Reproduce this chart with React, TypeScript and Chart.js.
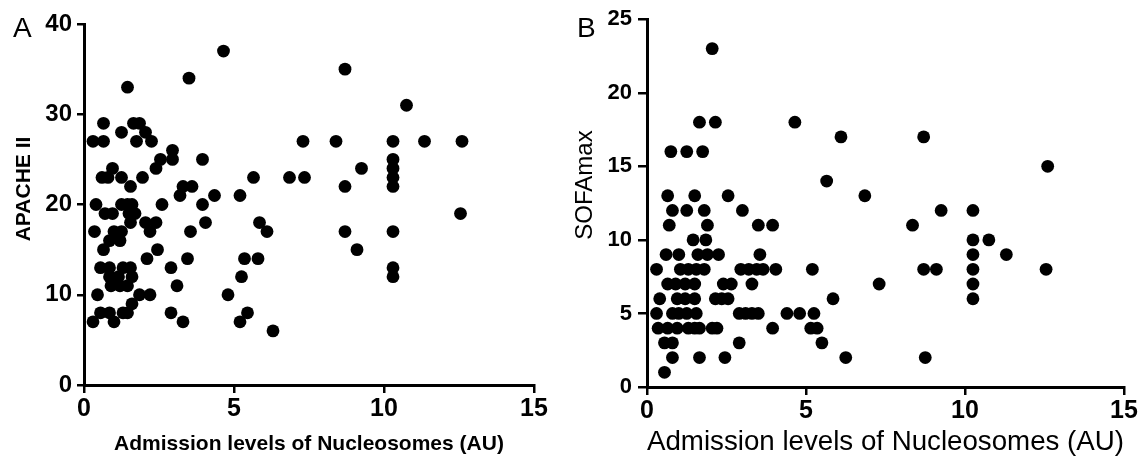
import React, { useEffect, useRef } from "react";
import { Chart, registerables } from "chart.js";

Chart.register(...registerables);

// ---------- data ----------
const X_TICKS = [0, 5, 10, 15];
const APACHE_TICKS = [0, 10, 20, 30, 40];
const SOFA_TICKS = [0, 5, 10, 15, 20, 25];

const X_TITLE = "Admission levels of Nucleosomes (AU)";
const APACHE_TITLE = "APACHE II";
const SOFA_TITLE = "SOFAmax";

// Panel A: nucleosomes vs APACHE II
const apacheX = [
  1.45, 3.5, 4.65, 8.7, 10.75,
  0.65, 1.65, 1.85,
  1.25, 2.05,
  0.3, 0.65, 1.75, 2.25, 7.3, 8.4, 10.3, 11.35, 12.6,
  2.95,
  2.55, 2.95, 3.95, 10.3,
  0.95, 2.4, 9.25, 10.3,
  0.6, 0.8, 1.25, 1.95, 5.65, 6.85, 7.35, 10.3,
  1.55, 3.3, 3.6, 8.7, 10.3,
  3.2, 4.35, 5.2,
  0.4, 1.25, 1.45, 1.6, 2.6, 3.95,
  0.7, 0.95, 1.5, 1.7, 12.55,
  1.55, 2.05, 2.4, 4.05, 5.85,
  0.35, 1.0, 1.25, 2.2, 3.55, 6.1, 8.7, 10.3,
  0.85, 1.2,
  0.65, 2.45, 9.1,
  2.1, 3.45, 5.35, 5.8,
  0.55, 0.85, 1.3, 1.55, 2.9, 10.3,
  0.85, 1.15, 1.6, 5.25, 10.3,
  0.9, 1.2, 1.45, 3.1,
  0.45, 1.85, 2.2, 4.8,
  1.6,
  0.55, 0.85, 1.3, 1.45, 2.9, 5.45,
  0.3, 1.0, 3.3, 5.2,
  6.3,
];
const apacheY = [
  33, 34, 37, 35, 31,
  29, 29, 29,
  28, 28,
  27, 27, 27, 27, 27, 27, 27, 27, 27,
  26,
  25, 25, 25, 25,
  24, 24, 24, 24,
  23, 23, 23, 23, 23, 23, 23, 23,
  22, 22, 22, 22, 22,
  21, 21, 21,
  20, 20, 20, 20, 20, 20,
  19, 19, 19, 19, 19,
  18, 18, 18, 18, 18,
  17, 17, 17, 17, 17, 17, 17, 17,
  16, 16,
  15, 15, 15,
  14, 14, 14, 14,
  13, 13, 13, 13, 13, 13,
  12, 12, 12, 12, 12,
  11, 11, 11, 11,
  10, 10, 10, 10,
  9,
  8, 8, 8, 8, 8, 8,
  7, 7, 7, 7,
  6,
];

// Panel B: nucleosomes vs SOFAmax
const sofaX = [
  2.05,
  1.65, 2.15, 4.65,
  6.1, 8.7,
  0.75, 1.25, 1.75,
  12.6,
  5.65,
  0.65, 1.5, 2.55, 6.85,
  0.8, 1.25, 1.8, 3.0, 9.25, 10.25,
  0.7, 1.9, 3.5, 3.95, 8.35,
  1.45, 1.85, 10.25, 10.75,
  0.6, 1.0, 1.6, 1.9, 2.25, 3.55, 10.25, 11.3,
  0.3, 1.05, 1.3, 1.55, 1.8, 2.95, 3.2, 3.45, 3.65, 4.05, 5.2, 8.7, 9.1, 10.25, 12.55,
  0.65, 0.9, 1.2, 1.5, 2.4, 2.65, 3.3, 7.3, 10.25,
  0.4, 0.95, 1.2, 1.5, 2.15, 2.35, 2.55, 5.85, 10.25,
  0.3, 0.8, 1.0, 1.25, 1.55, 2.9, 3.1, 3.3, 3.5, 4.4, 4.8, 5.25,
  0.35, 0.65, 0.95, 1.3, 1.5, 1.65, 2.05, 2.2, 3.95, 5.15, 5.35,
  0.55, 0.8, 2.9, 5.5,
  0.8, 1.65, 2.45, 6.25, 8.75,
  0.55,
];
const sofaY = [
  23,
  18, 18, 18,
  17, 17,
  16, 16, 16,
  15,
  14,
  13, 13, 13, 13,
  12, 12, 12, 12, 12, 12,
  11, 11, 11, 11, 11,
  10, 10, 10, 10,
  9, 9, 9, 9, 9, 9, 9, 9,
  8, 8, 8, 8, 8, 8, 8, 8, 8, 8, 8, 8, 8, 8, 8,
  7, 7, 7, 7, 7, 7, 7, 7, 7,
  6, 6, 6, 6, 6, 6, 6, 6, 6,
  5, 5, 5, 5, 5, 5, 5, 5, 5, 5, 5, 5,
  4, 4, 4, 4, 4, 4, 4, 4, 4, 4, 4,
  3, 3, 3, 3,
  2, 2, 2, 2, 2,
  1,
];

// ---------- rendering ----------
const FONT = "'Liberation Sans', Arial, Helvetica, sans-serif";

const panelText = {
  id: "panelText",
  afterDraw(chart: any, _args: any, opts: any) {
    const ctx = chart.ctx;
    ctx.save();
    ctx.fillStyle = "#000";
    ctx.font = opts.letterFont;
    ctx.textAlign = "left";
    ctx.textBaseline = "alphabetic";
    ctx.fillText(opts.letter, opts.letterX, opts.letterY);
    ctx.translate(opts.titleX, opts.titleY);
    ctx.rotate(-Math.PI / 2);
    ctx.textAlign = "center";
    ctx.textBaseline = "middle";
    ctx.font = opts.titleFont;
    ctx.fillText(opts.title, 0, 0);
    ctx.restore();
  },
};

type PanelProps = {
  left: number;
  width: number;
  xs: number[];
  ys: number[];
  yTicks: number[];
  yMax: number;
  yScaleWidth: number;
  xScaleHeight: number;
  padTop: number;
  padRight: number;
  yTickFont: number;
  yTickLen: number;
  yTickPad: number;
  xTitleFont: any;
  letter: string;
  letterX: number;
  title: string;
  titleFont: string;
  titleX: number;
  titleY: number;
};

function Panel(p: PanelProps) {
  const ref = useRef<HTMLCanvasElement | null>(null);
  useEffect(() => {
    if (!ref.current) return;
    const data = p.xs.map((x, i) => ({ x, y: p.ys[i] }));
    const chart = new Chart(ref.current, {
      type: "scatter",
      data: {
        datasets: [
          {
            data,
            backgroundColor: "#000",
            borderColor: "#000",
            pointRadius: 6.4,
            pointHoverRadius: 6.4,
            borderWidth: 0,
            clip: false as any,
          },
        ],
      },
      options: {
        responsive: false,
        animation: false,
        devicePixelRatio: 1,
        layout: { padding: { top: p.padTop, right: p.padRight, left: 0, bottom: 0 } },
        plugins: {
          legend: { display: false },
          tooltip: { enabled: false },
          panelText: {
            letter: p.letter,
            letterX: p.letterX,
            letterY: 37,
            letterFont: `28px ${FONT}`,
            title: p.title,
            titleFont: p.titleFont,
            titleX: p.titleX,
            titleY: p.titleY,
          },
        } as any,
        scales: {
          x: {
            type: "linear",
            min: 0,
            max: 15,
            afterBuildTicks: (s: any) => {
              s.ticks = X_TICKS.map((v) => ({ value: v }));
            },
            afterFit: (s: any) => {
              s.height = p.xScaleHeight;
            },
            ticks: {
              color: "#000",
              font: { family: FONT, size: 25, weight: "bold" },
              padding: 1,
              maxRotation: 0,
            },
            grid: {
              drawOnChartArea: false,
              drawTicks: true,
              tickLength: 8,
              lineWidth: 2.5,
              color: "#000",
            },
            border: { display: true, color: "#000", width: 3 },
            title: {
              display: true,
              text: X_TITLE,
              color: "#000",
              font: p.xTitleFont,
              padding: { top: 0, bottom: 0 },
            },
          },
          y: {
            type: "linear",
            min: 0,
            max: p.yMax,
            afterBuildTicks: (s: any) => {
              s.ticks = p.yTicks.map((v) => ({ value: v }));
            },
            afterFit: (s: any) => {
              s.width = p.yScaleWidth;
            },
            ticks: {
              color: "#000",
              font: { family: FONT, size: p.yTickFont, weight: "bold" },
              padding: p.yTickPad,
            },
            grid: {
              drawOnChartArea: false,
              drawTicks: true,
              tickLength: p.yTickLen,
              lineWidth: 2.5,
              color: "#000",
            },
            border: { display: true, color: "#000", width: 3 },
          },
        },
      } as any,
      plugins: [panelText],
    });
    return () => chart.destroy();
  }, []);
  return (
    <canvas
      ref={ref}
      width={p.width}
      height={456}
      style={{ position: "absolute", left: p.left, top: 0, width: p.width, height: 456 }}
    />
  );
}

export default function App() {
  return (
    <div
      style={{
        position: "absolute",
        left: 0,
        top: 0,
        width: 1139,
        height: 456,
        background: "#fff",
        overflow: "hidden",
      }}
    >
      <Panel
        left={0}
        width={560}
        xs={apacheX}
        ys={apacheY}
        yTicks={APACHE_TICKS}
        yMax={40}
        yScaleWidth={84}
        xScaleHeight={71}
        padTop={24}
        padRight={26}
        yTickFont={24}
        yTickLen={7}
        yTickPad={5}
        xTitleFont={{ family: FONT, size: 21, weight: "bold", lineHeight: 1.1 }}
        letter="A"
        letterX={13}
        title={APACHE_TITLE}
        titleFont={`bold 21px ${FONT}`}
        titleX={24}
        titleY={189}
      />
      <Panel
        left={560}
        width={579}
        xs={sofaX}
        ys={sofaY}
        yTicks={SOFA_TICKS}
        yMax={25}
        yScaleWidth={87}
        xScaleHeight={69}
        padTop={17}
        padRight={15}
        yTickFont={22}
        yTickLen={9}
        yTickPad={6}
        xTitleFont={{ family: FONT, size: 28, weight: "normal", lineHeight: 1.0 }}
        letter="B"
        letterX={17}
        title={SOFA_TITLE}
        titleFont={`24px ${FONT}`}
        titleX={25}
        titleY={185}
      />
    </div>
  );
}
